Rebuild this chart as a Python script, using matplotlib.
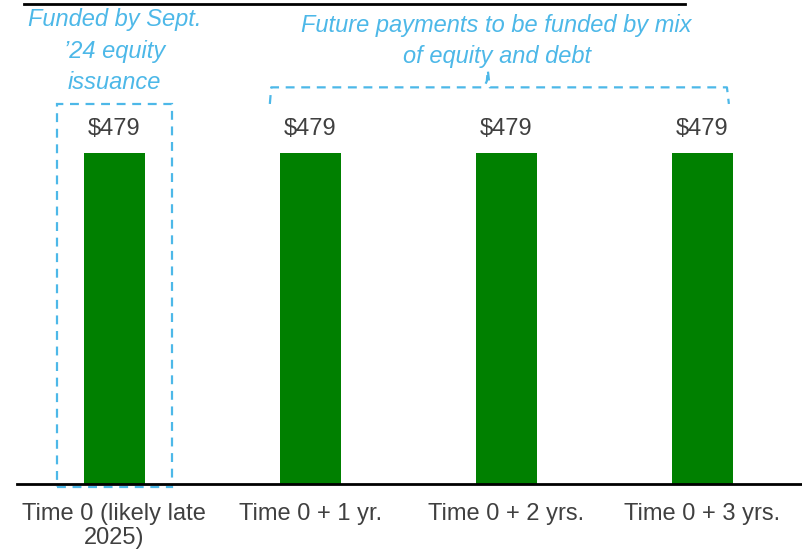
import matplotlib
matplotlib.use('Agg')
import matplotlib.pyplot as plt
from matplotlib.patches import Rectangle
from matplotlib.lines import Line2D

matplotlib.rcParams['font.family'] = ['Liberation Sans', 'DejaVu Sans']

categories = ['Time 0 (likely late\n2025)', 'Time 0 + 1 yr.', 'Time 0 + 2 yrs.', 'Time 0 + 3 yrs.']
values = [479, 479, 479, 479]
value_labels = ['$479', '$479', '$479', '$479']
note_now = 'Funded by Sept.\n\u201924 equity\nissuance'
note_future = 'Future payments to be funded by mix\nof equity and debt'

GREEN = '#008000'
BLUE = '#4db8e8'
GREY = '#404040'

W, H = 802, 551
fig = plt.figure(figsize=(W / 100, H / 100), dpi=100)
# axes from x=17px to right edge, baseline at y=484px, top at y=4px
ax = fig.add_axes([17 / W, 1 - 484 / H, 1 - 17 / W, 480 / H])

x = list(range(len(categories)))
ax.bar(x, values, width=0.311, color=GREEN)
ax.set_xlim(-0.497, 3.508)
ax.set_ylim(0, 479 * 480 / 331)

for xi, v, lab in zip(x, values, value_labels):
    ax.text(xi, v + 35, lab, ha='center', va='center', fontsize=17, color=GREY)

ax.set_xticks(x)
ax.set_xticklabels(categories, fontsize=17, color=GREY)
for t in ax.get_xticklabels():
    t.set_linespacing(1.1)
ax.tick_params(axis='x', length=0, pad=14)
ax.set_yticks([])
for s in ['top', 'left', 'right']:
    ax.spines[s].set_visible(False)
ax.spines['bottom'].set_linewidth(2)
ax.spines['bottom'].set_color('black')

# top rule
fig.add_artist(Line2D([24 / W, 685 / W], [1 - 4 / H, 1 - 4 / H], color='black', lw=2))

# dashed box around the first bar
box = Rectangle((-0.293, -4), 0.586, 554, fill=False, ls=(0, (4, 3)),
                lw=1.6, edgecolor=BLUE, clip_on=False)
ax.add_patch(box)

# dashed bracket over the future bars
bx = [0.793, 0.80, 1.885, 1.90, 1.905, 1.915, 3.125, 3.135]
by = [550, 574, 574, 583, 599, 574, 574, 550]
ax.plot(bx, by, color=BLUE, lw=1.6, ls=(0, (4, 3)), clip_on=False)

ax.text(0, 626, note_now, ha='center', va='center', fontsize=17, style='italic',
        color=BLUE, linespacing=1.47)
ax.text(1.95, 641, note_future, ha='center', va='center', fontsize=17, style='italic',
        color=BLUE, linespacing=1.47)

fig.savefig('out.png', dpi=100)
